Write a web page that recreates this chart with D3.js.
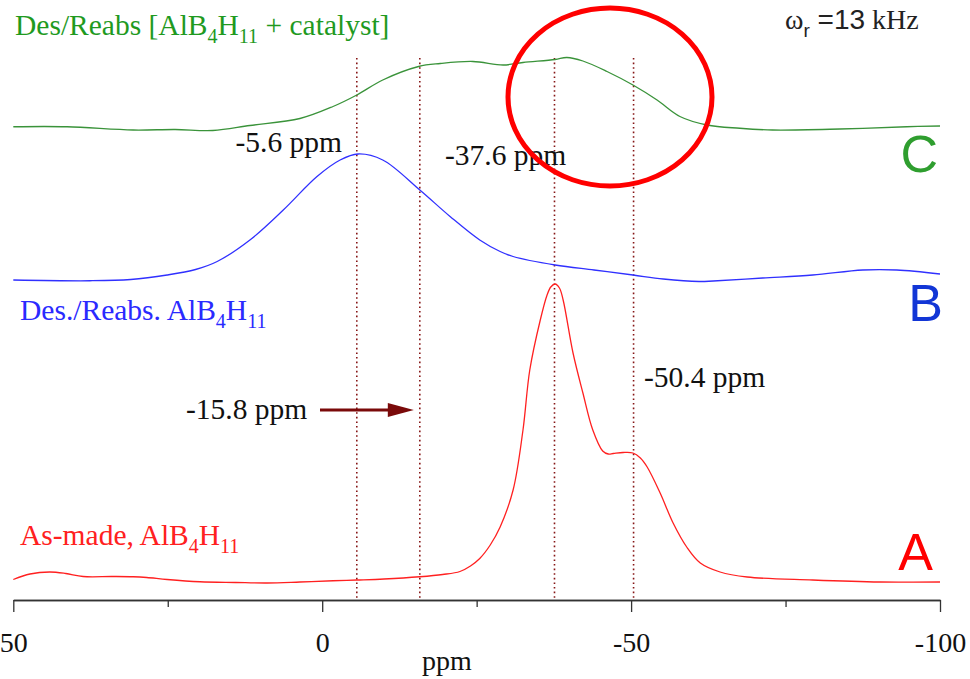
<!DOCTYPE html>
<html lang="en">
	<head>
		<meta charset="utf-8">
		<title>11B MAS NMR spectra</title>
		<script src="https://d3js.org/d3.v7.min.js"></script>
		<style type="text/css">
			body { margin: 0; background: #fff; }
			svg { display: block; }
			.serif { font-family: "Liberation Serif", "DejaVu Serif", serif; }
			.sans { font-family: "Liberation Sans", Arial, sans-serif; }
		</style>
	</head>
	<body>
		<script type="text/javascript">

			//Width and height
			var w = 970;
			var h = 679;

			// spectrum A (as-made), ppm and intensity above its own baseline
			var ppmA = [50, 47.3, 44.1, 41.5, 38.7, 34, 30.6, 28.4, 25.1, 19.8, 14, 8.9, 3.6, -1.75, -5.6, -10,
				-15.8, -19.5, -22.3, -24, -25.5, -27.2, -28.8, -30.9, -32.5, -33.6, -35.3, -36.4, -37.0, -37.7,
				-38.4, -39.0, -40.6, -42.2, -43.8, -45.4, -46.3, -47.1, -48.7, -50.3, -51.5, -52.6, -54.7, -56.8,
				-59.0, -61.2, -64.4, -68.8, -79.4, -90.3, -100];
			var intA = [0.1, 1.2, 1.6, 1.3, 0.7, 0.7, 0.65, 0.5, 0.1, -0.35, -0.5, -0.6, -0.4, -0.15, 0, 0.2,
				0.65, 1.1, 1.7, 2.8, 4.3, 7, 10.6, 18, 30, 42, 52, 57, 58.6, 59.2,
				58.4, 56, 45.4, 37.4, 30, 25.8, 25.2, 25.3, 25.5, 25.4, 24.4, 22.6, 17.4, 11.4,
				6.6, 3.4, 1.6, 0.6, 0, -0.4, -0.4];

			// spectrum B (des./reabs.)
			var ppmB = [50, 37.6, 31, 25.1, 20.5, 17.0, 11.7, 6.3, 0.84, -2.9, -5.8, -9.8, -15.8, -20.7, -25.5,
				-28.8, -30.9, -37.7, -44, -50.3, -55.2, -61, -63.3, -71.3, -79.4, -87.5, -93.0, -100];
			var intB = [0, -0.15, 0.1, 1, 2.1, 3.7, 8, 14, 20.7, 24, 25.2, 24, 18, 12.7, 8,
				5.7, 4.7, 3, 2, 1, 0.2, -0.3, -0.2, 0.4, 1, 2, 2, 1.2];

			// spectrum C (des./reabs. with catalyst)
			var ppmC = [50, 41.3, 30.6, 23.8, 17.7, 11.7, 3.6, -1.75, -5.6, -9.8, -15.6, -19.1, -24.4, -29.3,
				-32.5, -37.7, -39.6, -42.2, -46.1, -50.3, -54.2, -57.9, -62.3, -67.6, -72.9, -83.8, -94.6, -100];
			var intC = [0.05, 0.05, -0.6, -0.5, -0.7, 0.3, 1.7, 4.1, 6.4, 9.4, 12.1, 12.7, 13.1, 12.4,
				12.9, 13.5, 13.9, 13.2, 11.1, 8.4, 5.4, 2.1, 0.4, -0.25, -0.6, -0.4, 0.05, 0.2];

			// vertical offsets of the stacked spectra
			var offsets = [4, 64, 94.6];
			var colors = ["#ff2020", "#3030ff", "#3a933a"];

			var peaks = [-5.6, -15.8, -37.6, -50.4];
			var majorTicks = [50, 0, -50, -100];
			var minorTicks = [25, -25, -75];

			var x = d3.scaleLinear().domain([50, -100]).range([13.3, 940]);
			var y = d3.scaleLinear().domain([0, 120]).range([600, 0]);

			//Create SVG element
			var svg = d3.select("body")
						.append("svg")
						.attr("width", w)
						.attr("height", h);

			svg.append("rect").attr("width", w).attr("height", h).attr("fill", "#fff");

			// dotted guide lines at the peak positions
			svg.selectAll("line.peak")
			   .data(peaks)
			   .enter()
			   .append("line")
			   .attr("class", "peak")
			   .attr("x1", function(d) { return x(d); })
			   .attr("x2", function(d) { return x(d); })
			   .attr("y1", 58)
			   .attr("y2", 600)
			   .attr("stroke", "#861616")
			   .attr("stroke-width", 1.6)
			   .attr("stroke-dasharray", "1.6,3");

			var series = [
				{ ppm: ppmA, val: intA },
				{ ppm: ppmB, val: intB },
				{ ppm: ppmC, val: intC }
			];

			series.forEach(function(s, k) {
				var pts = s.ppm.map(function(p, i) { return [p, s.val[i] + offsets[k]]; });
				var line = d3.line()
					.x(function(d) { return x(d[0]); })
					.y(function(d) { return y(d[1]); })
					.curve(d3.curveCatmullRom.alpha(0.5));
				svg.append("path")
				   .datum(pts)
				   .attr("d", line)
				   .attr("fill", "none")
				   .attr("stroke", colors[k])
				   .attr("stroke-width", 1.3);
			});

			// x axis
			var axisG = svg.append("g").attr("transform", "translate(0,600)");
			axisG.call(d3.axisBottom(x).tickValues(majorTicks).tickSize(12).tickSizeOuter(0)
				.tickFormat(function(d) { return String(d); }));
			axisG.append("g").call(d3.axisBottom(x).tickValues(minorTicks).tickSize(7).tickSizeOuter(0)
				.tickFormat(""));
			axisG.selectAll("path.domain").attr("stroke", "#333").attr("stroke-width", 1.6);
			axisG.selectAll(".tick line").attr("stroke", "#333").attr("stroke-width", 1.3);
			axisG.selectAll(".tick text")
				 .attr("class", "serif")
				 .attr("y", 52)
				 .attr("dy", null)
				 .attr("font-size", "28px")
				 .attr("fill", "#111");

			svg.append("text")
			   .attr("class", "serif")
			   .attr("x", 447)
			   .attr("y", 670)
			   .attr("text-anchor", "middle")
			   .attr("font-size", "28px")
			   .attr("fill", "#111")
			   .text("ppm");

			// peak labels
			function label(txt, px, py, anchor) {
				svg.append("text")
				   .attr("class", "serif")
				   .attr("x", px)
				   .attr("y", py)
				   .attr("text-anchor", anchor)
				   .attr("font-size", "29.5px")
				   .attr("fill", "#111")
				   .text(txt);
			}
			label("-5.6 ppm", 342, 152, "end");
			label("-37.6 ppm", 445, 165, "start");
			label("-15.8 ppm", 186, 419, "start");
			label("-50.4 ppm", 644, 387, "start");

			// arrow pointing at -15.8 ppm
			var tip = x(-15.8) - 6;
			svg.append("line")
			   .attr("x1", 320).attr("x2", tip - 18)
			   .attr("y1", 410).attr("y2", 410)
			   .attr("stroke", "#7a0a0a")
			   .attr("stroke-width", 3);
			svg.append("path")
			   .attr("d", "M" + (tip - 26) + ",403 L" + tip + ",410 L" + (tip - 26) + ",417 Z")
			   .attr("fill", "#7a0a0a");

			// sample names with subscripts
			function sampleName(parts, px, py, color) {
				var t = svg.append("text")
				   .attr("class", "serif")
				   .attr("x", px)
				   .attr("y", py)
				   .attr("font-size", "29.5px")
				   .attr("fill", color);
				parts.forEach(function(p) {
					var ts = t.append("tspan").text(p[0]);
					if (p[1]) ts.attr("font-size", "20px").attr("dy", 8);
					else if (p[2]) ts.attr("dy", -8);
				});
			}
			sampleName([["Des/Reabs [AlB"], ["4", 1], ["H", 0, 1], ["11", 1], [" + catalyst]", 0, 1]], 15, 35, "#1f9a1f");
			sampleName([["Des./Reabs. AlB"], ["4", 1], ["H", 0, 1], ["11", 1]], 20, 320, "#2a2aff");
			sampleName([["As-made, AlB"], ["4", 1], ["H", 0, 1], ["11", 1]], 20, 545, "#ff2020");

			// trace letters
			var letters = [["A", 570, "#ff0000", 933], ["B", 321, "#1236d6", 943], ["C", 172, "#2f9e2f", 938]];
			svg.selectAll("text.letter")
			   .data(letters)
			   .enter()
			   .append("text")
			   .attr("class", "letter sans")
			   .attr("x", function(d) { return d[3]; })
			   .attr("y", function(d) { return d[1]; })
			   .attr("text-anchor", "end")
			   .attr("font-size", "52px")
			   .attr("fill", function(d) { return d[2]; })
			   .text(function(d) { return d[0]; });

			// spinning rate
			var sr = svg.append("text").attr("x", 785).attr("y", 29).attr("fill", "#222").attr("font-size", "28px");
			sr.append("tspan").attr("class", "serif").text("ω");
			sr.append("tspan").attr("class", "sans").attr("font-size", "19px").attr("dy", 8).text("r");
			sr.append("tspan").attr("class", "sans").attr("dy", -8).text(" =13");
			sr.append("tspan").attr("class", "serif").text(" kHz");

			// red highlight circle
			svg.append("ellipse")
			   .attr("cx", 610)
			   .attr("cy", 97)
			   .attr("rx", 102)
			   .attr("ry", 89)
			   .attr("fill", "none")
			   .attr("stroke", "#ff0000")
			   .attr("stroke-width", 5);

		</script>
	</body>
</html>
